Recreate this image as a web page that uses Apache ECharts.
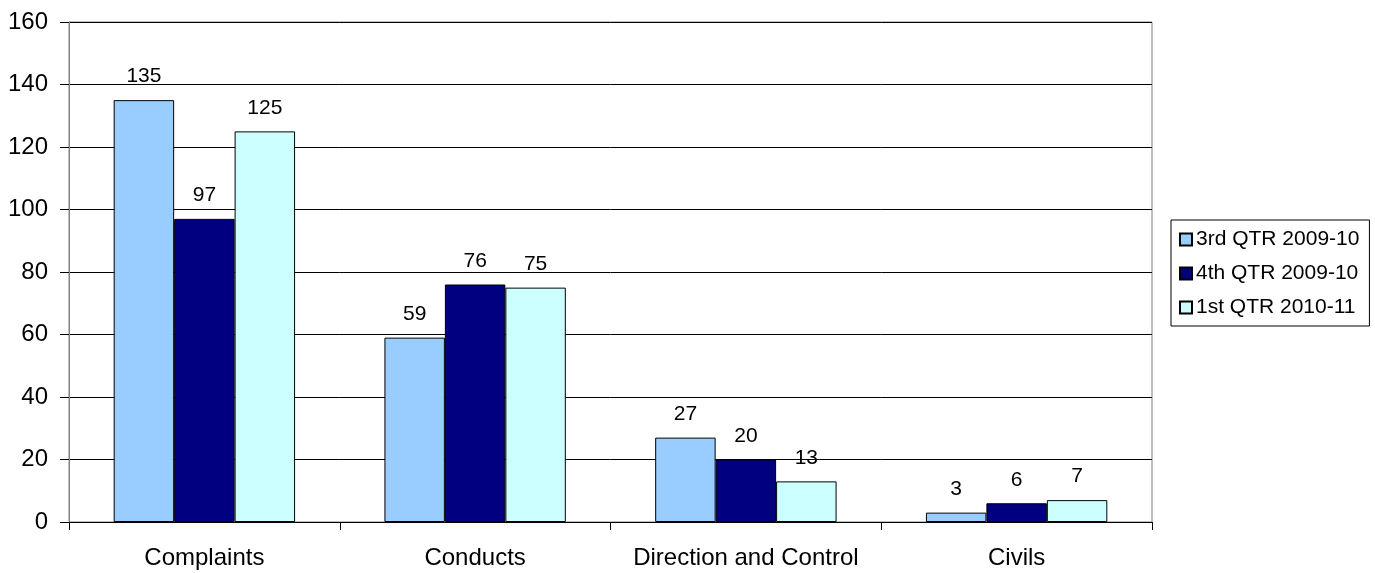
<!DOCTYPE html>
<html>
<head>
<meta charset="utf-8">
<script src="https://cdn.jsdelivr.net/npm/echarts@6/dist/echarts.min.js"></script>
<style>
html, body { margin: 0; padding: 0; background: #fff; }
#main { width: 1375px; height: 573px; }
</style>
</head>
<body>
<div id="main"></div>
<script>
var categories = ['Complaints', 'Conducts', 'Direction and Control', 'Civils']
var seriesNames = ['3rd QTR 2009-10', '4th QTR 2009-10', '1st QTR 2010-11']
var q3_2009 = [135, 59, 27, 3]
var q4_2009 = [97, 76, 20, 6]
var q1_2010 = [125, 75, 13, 7]
var seriesColors = ['#99ccff', '#000080', '#ccffff']

var font = "'Liberation Sans', Arial, sans-serif"

function makeSeries(name, data, color) {
	return {
		name: name,
		type: 'bar',
		data: data,
		barGap: '0%',
		barCategoryGap: '33%',
		itemStyle: {
			color: color,
			borderColor: '#000',
			borderWidth: 1
		},
		label: {
			show: true,
			position: 'top',
			distance: 13,
			color: '#000',
			fontFamily: font,
			fontSize: 21
		}
	}
}

window.onload = function () {
	var myChart = echarts.init(document.getElementById('main'))
	var options = {
		animation: false,
		backgroundColor: '#fff',
		grid: {
			left: 69,
			right: 223,
			top: 22,
			bottom: 51,
			show: true,
			borderColor: '#808080',
			borderWidth: 1
		},
		legend: {
			orient: 'vertical',
			left: 1171,
			top: 220,
			width: 194,
			padding: [9, 10, 8, 8],
			borderColor: '#000',
			borderWidth: 1,
			itemWidth: 12,
			itemHeight: 12,
			itemGap: 13,
			icon: 'rect',
			textStyle: {
				color: '#000',
				fontFamily: font,
				fontSize: 21,
				padding: [0, 0, 0, -1]
			},
			data: seriesNames
		},
		xAxis: {
			type: 'category',
			data: categories,
			axisLine: { lineStyle: { color: '#000', width: 1 } },
			axisTick: { show: true, length: 8, lineStyle: { color: '#000' } },
			axisLabel: {
				interval: 0,
				color: '#000',
				fontFamily: font,
				fontSize: 24,
				margin: 24
			}
		},
		yAxis: {
			type: 'value',
			min: 0,
			max: 160,
			interval: 20,
			axisLine: { show: true, lineStyle: { color: '#808080', width: 1 } },
			axisTick: { show: true, length: 9, lineStyle: { color: '#000' } },
			splitLine: { show: true, lineStyle: { color: '#000', width: 1 } },
			axisLabel: {
				color: '#000',
				fontFamily: font,
				fontSize: 24,
				margin: 21
			}
		},
		series: [
			makeSeries(seriesNames[0], q3_2009, seriesColors[0]),
			makeSeries(seriesNames[1], q4_2009, seriesColors[1]),
			makeSeries(seriesNames[2], q1_2010, seriesColors[2])
		]
	}
	myChart.setOption(options)
}
</script>
</body>
</html>
